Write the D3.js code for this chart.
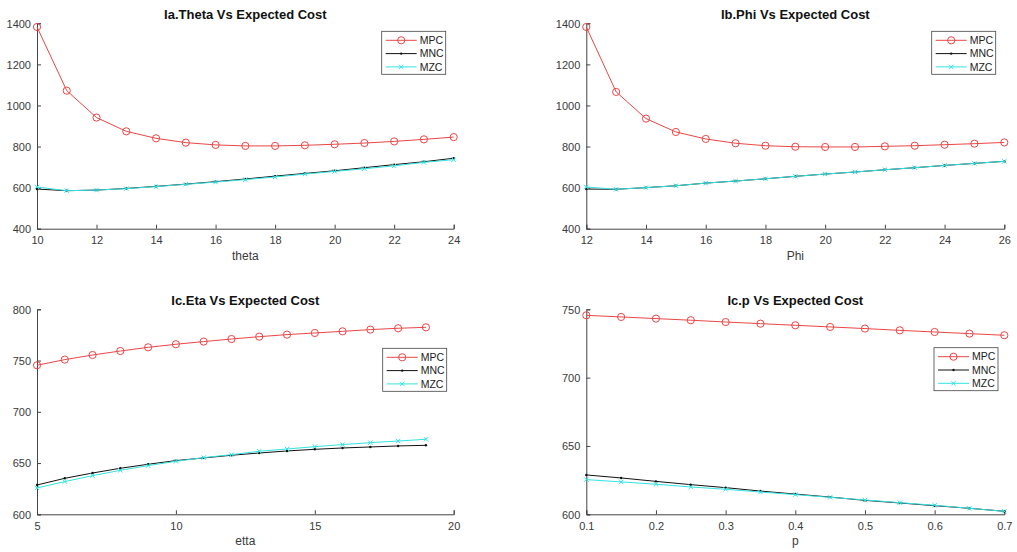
<!DOCTYPE html>
<html>
<head>
<meta charset="utf-8">
<script src="https://d3js.org/d3.v7.min.js"></script>
<style>
  body { margin: 0; background: #fff; }
  svg { display: block; font-family: "Liberation Sans", Arial, sans-serif; }
</style>
</head>
<body>
<svg id="chart" width="1017" height="552"></svg>
<script>
// ---- data ----
var series_names = ["MPC", "MNC", "MZC"];

var theta = [10, 11, 12, 13, 14, 15, 16, 17, 18, 19, 20, 21, 22, 23, 24];
var theta_mpc = [1382, 1072, 941, 874, 840, 819, 808, 803, 803, 806, 811, 817, 825, 835, 846];
var theta_mnc = [593, 585, 588, 596, 606, 617, 629, 642, 656, 669, 682, 697, 712, 726, 743];
var theta_mzc = [603, 585, 588, 595, 605, 616, 627, 639, 652, 666, 679, 692, 706, 723, 736];

var phi = [12, 13, 14, 15, 16, 17, 18, 19, 20, 21, 22, 23, 24, 25, 26];
var phi_mpc = [1382, 1066, 936, 871, 837, 816, 804, 799, 798, 798, 801, 804, 809, 814, 820];
var phi_mnc = [593, 592, 600, 609, 622, 632, 643, 655, 666, 676, 687, 697, 708, 718, 728];
var phi_mzc = [603, 592, 600, 609, 622, 632, 643, 655, 666, 676, 687, 697, 708, 718, 728];

var etta = [5, 6, 7, 8, 9, 10, 11, 12, 13, 14, 15, 16, 17, 18, 19];
var etta_mpc = [745.4, 750.9, 755.4, 759.3, 762.9, 765.9, 768.5, 771, 773.3, 775.3, 776.9, 778.5, 780.2, 781.5, 782.4];
var etta_mnc = [628.6, 635.1, 640.3, 644.9, 648.8, 652.4, 655, 657.6, 659.8, 661.8, 663.4, 664.7, 665.7, 666.7, 667.3];
var etta_mzc = [625.7, 631.9, 637.7, 642.9, 647.5, 651.7, 655.3, 658.2, 661.5, 663.7, 666, 668, 669.9, 671.5, 673.2];

var p_vals = [0.1, 0.15, 0.2, 0.25, 0.3, 0.35, 0.4, 0.45, 0.5, 0.55, 0.6, 0.65, 0.7];
var p_mpc = [745.6, 744.4, 743.2, 742, 740.7, 739.5, 738.3, 737.1, 735.9, 734.6, 733.4, 732.2, 731];
var p_mnc = [628.8, 626.6, 624.1, 621.7, 619.5, 617, 614.8, 612.6, 610.2, 608.3, 606.3, 604.4, 602.2];
var p_mzc = [625.4, 623.7, 622, 620, 618.3, 616.3, 614.4, 612.4, 610.5, 608.5, 606.6, 604.4, 602.2];

var theta_xticks = [10, 12, 14, 16, 18, 20, 22, 24];
var phi_xticks = [12, 14, 16, 18, 20, 22, 24, 26];
var etta_xticks = [5, 10, 15, 20];
var p_xticks = [0.1, 0.2, 0.3, 0.4, 0.5, 0.6, 0.7];
var cost_yticks_big = [400, 600, 800, 1000, 1200, 1400];
var etta_yticks = [600, 650, 700, 750, 800];
var p_yticks = [600, 650, 700, 750];

var colors = { MPC: "#ea4646", MNC: "#111111", MZC: "#35e2e2" };
var axis_col = "#444";

var svg = d3.select("#chart");

function draw_panel(opt)
{
    var g = svg.append("g");
    var x = d3.scaleLinear().domain(opt.xdom).range([opt.left, opt.right]);
    var y = d3.scaleLinear().domain(opt.ydom).range([opt.bottom, opt.top]);

    // axes (MATLAB style: ticks inside)
    var xa = g.append("g")
        .attr("transform", "translate(0," + opt.bottom + ")")
        .call(d3.axisBottom(x).tickValues(opt.xticks).tickSize(-4).tickPadding(8)
            .tickFormat(d3.format(opt.xfmt)));
    var ya = g.append("g")
        .attr("transform", "translate(" + opt.left + ",0)")
        .call(d3.axisLeft(y).tickValues(opt.yticks).tickSize(-4).tickPadding(6)
            .tickFormat(d3.format("d")));
    [xa, ya].forEach(function(a) {
        a.select(".domain").attr("stroke", axis_col);
        a.selectAll(".tick line").attr("stroke", axis_col);
        a.selectAll(".tick text").attr("fill", "#3a3a3a").style("font-size", "11px")
            .style("font-family", "Liberation Sans, Arial, sans-serif");
    });
    ya.selectAll(".tick text").attr("dy", "0.35em");

    // title & x label
    g.append("text")
        .attr("x", (opt.left + opt.right) / 2).attr("y", opt.top - 4.5)
        .attr("text-anchor", "middle").style("font-weight", "bold")
        .style("font-size", "13px").attr("fill", "#111")
        .text(opt.title);
    g.append("text")
        .attr("x", (opt.left + opt.right) / 2).attr("y", opt.bottom + 31)
        .attr("text-anchor", "middle").style("font-size", "12px").attr("fill", "#3a3a3a")
        .text(opt.xlabel);

    var line = d3.line().x(function(d) { return x(d[0]); }).y(function(d) { return y(d[1]); });

    opt.series.forEach(function(vals, k)
    {
        var name = series_names[k];
        var pts = opt.xs.map(function(v, i) { return [v, vals[i]]; });
        g.append("path").datum(pts)
            .attr("d", line).attr("fill", "none")
            .attr("stroke", colors[name]).attr("stroke-width", 1);
        draw_markers(g, name, pts.map(function(d) { return [x(d[0]), y(d[1])]; }));
    });

    // legend
    var lg = g.append("g").attr("transform", "translate(" + opt.leg[0] + "," + opt.leg[1] + ")");
    lg.append("rect").attr("width", 64).attr("height", 43)
        .attr("fill", "#fff").attr("stroke", "#444").attr("stroke-width", 0.8);
    series_names.forEach(function(name, k)
    {
        var yy = 9 + k * 13.3;
        lg.append("line").attr("x1", 4).attr("x2", 35).attr("y1", yy).attr("y2", yy)
            .attr("stroke", colors[name]).attr("stroke-width", 1);
        draw_markers(lg, name, [[19.5, yy]]);
        lg.append("text").attr("x", 38).attr("y", yy).attr("dy", "0.35em")
            .style("font-size", "10.5px").attr("fill", "#222").text(name);
    });
}

function draw_markers(g, name, pts)
{
    if (name == "MPC")
    {
        g.selectAll(null).data(pts).enter().append("circle")
            .attr("cx", function(d) { return d[0]; }).attr("cy", function(d) { return d[1]; })
            .attr("r", 3.6).attr("fill", "none").attr("stroke", colors[name]).attr("stroke-width", 1);
    }
    else if (name == "MNC")
    {
        g.selectAll(null).data(pts).enter().append("circle")
            .attr("cx", function(d) { return d[0]; }).attr("cy", function(d) { return d[1]; })
            .attr("r", 1.2).attr("fill", colors[name]);
    }
    else
    {
        var s = 2.2;
        g.selectAll(null).data(pts).enter().append("path")
            .attr("d", function(d) {
                return "M" + (d[0] - s) + "," + (d[1] - s) + "L" + (d[0] + s) + "," + (d[1] + s) +
                       "M" + (d[0] - s) + "," + (d[1] + s) + "L" + (d[0] + s) + "," + (d[1] - s);
            })
            .attr("stroke", colors[name]).attr("stroke-width", 1);
    }
}

draw_panel({ title: "Ia.Theta Vs Expected Cost", xlabel: "theta",
    left: 37, right: 453.7, top: 23.3, bottom: 228.7,
    xdom: [10, 24], ydom: [400, 1400], xticks: theta_xticks, yticks: cost_yticks_big, xfmt: "d",
    xs: theta, series: [theta_mpc, theta_mnc, theta_mzc], leg: [381.7, 31.3] });

draw_panel({ title: "Ib.Phi Vs Expected Cost", xlabel: "Phi",
    left: 586.3, right: 1004.3, top: 23.3, bottom: 228.7,
    xdom: [12, 26], ydom: [400, 1400], xticks: phi_xticks, yticks: cost_yticks_big, xfmt: "d",
    xs: phi, series: [phi_mpc, phi_mnc, phi_mzc], leg: [931.7, 31.3] });

draw_panel({ title: "Ic.Eta Vs Expected Cost", xlabel: "etta",
    left: 37, right: 453.7, top: 309.3, bottom: 514.3,
    xdom: [5, 20], ydom: [600, 800], xticks: etta_xticks, yticks: etta_yticks, xfmt: "d",
    xs: etta, series: [etta_mpc, etta_mnc, etta_mzc], leg: [382.7, 348.3] });

draw_panel({ title: "Ic.p Vs Expected Cost", xlabel: "p",
    left: 586.3, right: 1004.3, top: 309.3, bottom: 514.3,
    xdom: [0.1, 0.7], ydom: [600, 750], xticks: p_xticks, yticks: p_yticks, xfmt: ".1f",
    xs: p_vals, series: [p_mpc, p_mnc, p_mzc], leg: [934, 347.7] });
</script>
</body>
</html>
